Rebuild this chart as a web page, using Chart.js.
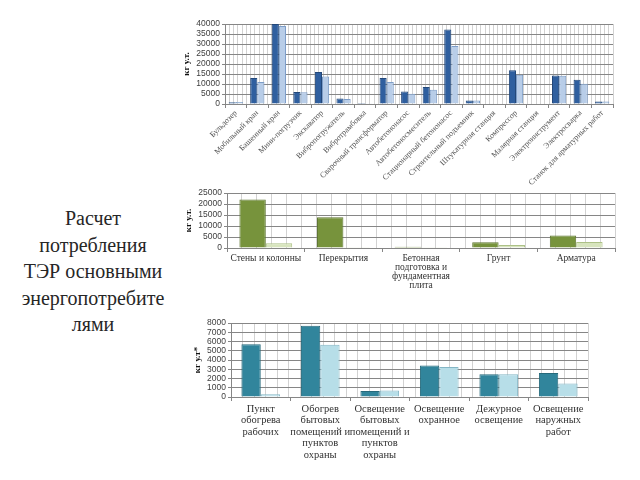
<!DOCTYPE html>
<html><head><meta charset="utf-8">
<script src="https://cdn.jsdelivr.net/npm/chart.js@4/dist/chart.umd.min.js"></script>
<style>
body{margin:0;background:#fff;width:640px;height:480px;position:relative;overflow:hidden}
canvas{position:absolute}
#title{position:absolute;left:0;top:205px;width:186px;text-align:center;font-family:"Liberation Serif",serif;font-size:20px;line-height:26.5px;color:#262626}
</style></head><body>
<div id="title">Расчет<br>потребления<br>ТЭР основными<br>энергопотребите<br>лями</div>
<canvas id="c1" width="440" height="170" style="left:180px;top:15px"></canvas>
<canvas id="c2" width="440" height="110" style="left:180px;top:185px"></canvas>
<canvas id="c3" width="440" height="150" style="left:180px;top:315px"></canvas>
<script>
// Chart 1: machines
const machineLabels = ["Бульдозер","Мобильный кран","Башенный кран","Мини-погрузчик","Экскаватор","Вибропогружатель","Вибротрамбовка","Сварочный трансформатор","Автобетононасос","Автобетоносмеситель","Стационарный бетононасос","Строительный подъемник","Штукатурная станция","Компрессор","Малярная станция","Электроинструмент","Электросварка","Станок для арматурных работ"];
const machineSeries1 = [900, 13000, 40000, 6000, 16000, 2700, 500, 13000, 6300, 8500, 37300, 1800, 0, 16900, 0, 14300, 12100, 1300];
const machineSeries2 = [1000, 11000, 39000, 5900, 13800, 2500, 400, 11000, 5100, 7100, 29000, 1800, 0, 14600, 0, 14100, 10100, 1200];
const machineTicks = [0, 5000, 10000, 15000, 20000, 25000, 30000, 35000, 40000];

// Chart 2: construction works
const workLabels = ["Стены и колонны", "Перекрытия", ["Бетонная","подготовка и","фундаментная","плита"], "Грунт", "Арматура"];
const workSeries1 = [22000, 14000, 600, 2600, 5700];
const workSeries2 = [2200, 150, 150, 1400, 2700];
const workTicks = [0, 5000, 10000, 15000, 20000, 25000];

// Chart 3: heating and lighting
const lightLabels = [["Пункт","обогрева","рабочих"], ["Обогрев","бытовых","помещений и","пунктов","охраны"], ["Освещение","бытовых","помещений и","пунктов","охраны"], ["Освещение","охранное"], ["Дежурное","освещение"], ["Освещение","наружных","работ"]];
const lightSeries1 = [5700, 7700, 650, 3400, 2450, 2600];
const lightSeries2 = [300, 5650, 700, 3250, 2450, 1450];
const lightTicks = [0, 1000, 2000, 3000, 4000, 5000, 6000, 7000, 8000];

const SERIF = '"Liberation Serif",serif';
const SANS = '"Liberation Sans",Arial,sans-serif';

function make(id, cfg) {
  const n = cfg.labels.length;
  const tickVals = cfg.ticks;
  return new Chart(document.getElementById(id), {
    type: 'bar',
    data: {
      labels: cfg.labels,
      datasets: [
        {data: cfg.s1, backgroundColor: cfg.c1, borderColor: cfg.b1, borderWidth: 1, categoryPercentage: cfg.cat, barPercentage: 1.0},
        {data: cfg.s2, backgroundColor: cfg.c2, borderColor: cfg.b2, borderWidth: 1, categoryPercentage: cfg.cat, barPercentage: 1.0}
      ]
    },
    options: {
      responsive: false, animation: false, devicePixelRatio: 1,
      layout: {padding: cfg.pad},
      plugins: {legend: {display: false}, tooltip: {enabled: false}},
      scales: {
        x: {
          type: 'category', offset: true,
          grid: {display: true, offset: true, drawOnChartArea: false, drawTicks: true, tickLength: 4, color: '#868686'},
          border: {color: '#868686'},
          ticks: {autoSkip: false, minRotation: cfg.rot, maxRotation: cfg.rot, padding: cfg.tpad, color: cfg.xcolor,
                  font: {family: SERIF, size: cfg.xfont, lineHeight: cfg.xlh}},
          afterFit: s => { s.height = cfg.xh; }
        },
        x2: {
          type: 'linear', position: 'top', min: 0, max: n * 5,
          grid: {color: '#d2d2d2', drawTicks: false, z: -1},
          border: {display: false},
          ticks: {display: false, stepSize: 1, maxTicksLimit: 1000},
          afterFit: s => { s.height = 0; }
        },
        y: {
          min: 0, max: tickVals[tickVals.length - 1],
          afterBuildTicks: s => { s.ticks = tickVals.map(v => ({value: v})); },
          grid: {color: '#868686', drawTicks: true, tickLength: 3},
          border: {color: '#868686'},
          ticks: {color: '#404040', padding: 2, autoSkip: false, font: {family: SANS, size: 8.5},
                  callback: v => String(v)},
          title: {display: true, text: cfg.ytitle, color: '#111', padding: {top: cfg.titlePad, bottom: 0},
                  font: {family: SERIF, size: 9, weight: 'bold'}},
          afterFit: s => { s.width = cfg.yw; }
        }
      }
    }
  });
}

make('c1', {
  labels: machineLabels, s1: machineSeries1, s2: machineSeries2, ticks: machineTicks,
  c1: '#2f5f9f', b1: '#23487a', c2: '#b8cde8', b2: '#7d9dc8', cat: 0.66,
  pad: {top: 9, right: 7, left: 0, bottom: 0}, xh: 81, yw: 45, rot: 45, tpad: 1,
  xcolor: '#555', xfont: 8, xlh: 1.0, ytitle: 'кг у.т.', titlePad: 1
});
make('c2', {
  labels: workLabels, s1: workSeries1, s2: workSeries2, ticks: workTicks,
  c1: '#77933c', b1: '#5e7530', c2: '#d7e4bd', b2: '#adc187', cat: 0.68,
  pad: {top: 8, right: 5, left: 0, bottom: 0}, xh: 47, yw: 47, rot: 0, tpad: 2,
  xcolor: '#333', xfont: 9.5, xlh: 0.95, ytitle: 'кг у.т.', titlePad: 3
});
make('c3', {
  labels: lightLabels, s1: lightSeries1, s2: lightSeries2, ticks: lightTicks,
  c1: '#31859c', b1: '#26697b', c2: '#b7dee8', b2: '#84b6c5', cat: 0.65,
  pad: {top: 8, right: 32, left: 0, bottom: 0}, xh: 68, yw: 51, rot: 0, tpad: 2,
  xcolor: '#333', xfont: 10.5, xlh: 1.1, ytitle: 'кг у.т*', titlePad: 12
});
</script>
</body></html>
